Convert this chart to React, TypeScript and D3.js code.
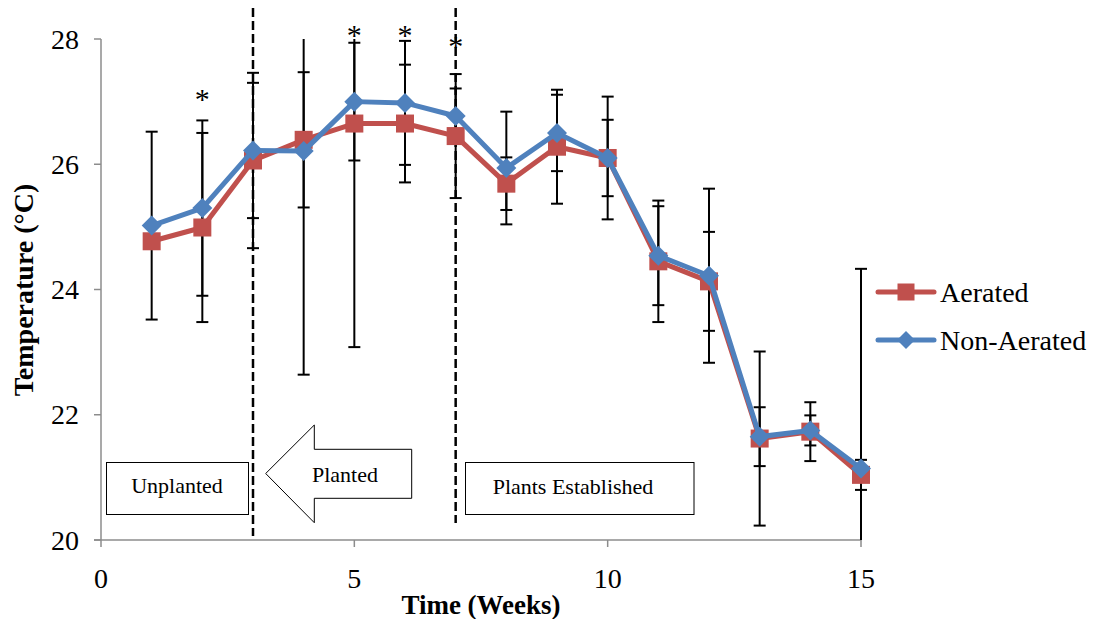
import React from "react";
import * as d3 from "d3";

const weeks = [1, 2, 3, 4, 5, 6, 7, 8, 9, 10, 11, 12, 13, 14, 15];
const aerated = [24.77, 24.99, 26.06, 26.39, 26.65, 26.65, 26.45, 25.69, 26.28, 26.1, 24.45, 24.13, 21.62, 21.73, 21.04];
const nonAerated = [25.02, 25.3, 26.22, 26.21, 27.0, 26.98, 26.77, 25.94, 26.5, 26.1, 24.54, 24.22, 21.65, 21.75, 21.14];
const aeratedErr = [0, 1.51, 1.4, 1.08, 3.57, 0.94, 0.99, 0.42, 0.91, 0.98, 0.97, 0.79, 1.39, 0.47, 0.24];
const nonAeratedErr = [1.5, 1.4, 1.08, 3.57, 0.94, 0.99, 0.44, 0.9, 0.61, 0.61, 0.79, 1.39, 0.47, 0.24, 3.19];
const sigWeeks = [2, 5, 6, 7];
const sigLevels = [27.12, 28.15, 28.15, 27.97];
const phaseBoundaries = [3, 7];
const xTicks = [0, 5, 10, 15];
const yTicks = [20, 22, 24, 26, 28];
const seriesNames = ["Aerated", "Non-Aerated"];

const RED = "#C0504D";
const BLUE = "#4F81BD";
const AXIS = "#8c8c8c";
const FONT = '"Liberation Serif", "Times New Roman", Times, serif';

export default function App() {
  const W = 1094;
  const H = 619;
  const x = d3.scaleLinear().domain([0, 15]).range([101, 861]);
  const y = d3.scaleLinear().domain([20, 28]).range([540, 39]);

  const line = d3
    .line<[number, number]>()
    .x((d) => x(d[0]))
    .y((d) => y(d[1]));

  const aPts: [number, number][] = weeks.map((w, i) => [w, aerated[i]]);
  const nPts: [number, number][] = weeks.map((w, i) => [w, nonAerated[i]]);

  const errBars = (vals: number[], errs: number[], key: string) =>
    weeks.map((w, i) => {
      const e = errs[i];
      if (!e) return null;
      const hi = vals[i] + e;
      const lo = vals[i] - e;
      const cx = x(w);
      const yHi = y(Math.min(hi, 28));
      const yLo = y(Math.max(lo, 20));
      return (
        <g key={key + i} stroke="#000" strokeWidth={2}>
          <line x1={cx} x2={cx} y1={yHi} y2={yLo} />
          {hi <= 28 && <line x1={cx - 6} x2={cx + 6} y1={yHi} y2={yHi} />}
          {lo >= 20 && <line x1={cx - 6} x2={cx + 6} y1={yLo} y2={yLo} />}
        </g>
      );
    });

  const square = (cx: number, cy: number, s: number, k: string) => (
    <rect key={k} x={cx - s / 2} y={cy - s / 2} width={s} height={s} fill={RED} />
  );
  const diamond = (cx: number, cy: number, r: number, k: string) => (
    <path
      key={k}
      d={`M${cx},${cy - r}L${cx + r},${cy}L${cx},${cy + r}L${cx - r},${cy}Z`}
      fill={BLUE}
    />
  );

  return (
    <svg
      width={W}
      height={H}
      style={{ position: "absolute", left: 0, top: 0, background: "#fff", fontFamily: FONT }}
    >
      <defs>
        <clipPath id="plotClip">
          <rect x={90} y={39} width={800} height={501} />
        </clipPath>
      </defs>
      <rect width={W} height={H} fill="#fff" />

      {/* axes */}
      <line x1={x(0)} x2={x(0)} y1={y(28)} y2={y(20)} stroke={AXIS} strokeWidth={1.5} />
      <line x1={x(0) - 7} x2={x(15)} y1={y(20)} y2={y(20)} stroke={AXIS} strokeWidth={1.5} />
      {yTicks.map((t) => (
        <g key={"yt" + t}>
          <line x1={x(0) - 7} x2={x(0)} y1={y(t)} y2={y(t)} stroke={AXIS} strokeWidth={1.5} />
          <text x={79} y={y(t) + 9.5} fontSize={28} textAnchor="end" fill="#000">
            {t}
          </text>
        </g>
      ))}
      {xTicks.map((t) => (
        <g key={"xt" + t}>
          <line x1={x(t)} x2={x(t)} y1={y(20)} y2={y(20) + 7} stroke={AXIS} strokeWidth={1.5} />
          <text x={x(t)} y={588} fontSize={28} textAnchor="middle" fill="#000">
            {t}
          </text>
        </g>
      ))}
      <text x={481} y={614} fontSize={27} fontWeight="bold" textAnchor="middle">
        Time (Weeks)
      </text>
      <text
        transform={`translate(33,290) rotate(-90)`}
        fontSize={28}
        fontWeight="bold"
        textAnchor="middle"
      >
        Temperature (°C)
      </text>

      {/* phase boundaries */}
      {phaseBoundaries.map((b, i) => (
        <line
          key={"pb" + b}
          x1={x(b)}
          x2={x(b)}
          y1={8}
          y2={i === 0 ? 536 : 523}
          stroke="#000"
          strokeWidth={2.5}
          strokeDasharray="9 4"
        />
      ))}

      {/* annotations */}
      <rect x={106.5} y={462.5} width={142} height={52} fill="#fff" stroke="#000" strokeWidth={1} />
      <text x={177} y={493} fontSize={22} textAnchor="middle">
        Unplanted
      </text>
      <path
        d="M265.7,473.5 L314.3,425 L314.3,449.3 L411.7,449.3 L411.7,498.3 L314.3,498.3 L314.3,522.7 Z"
        fill="#fff"
        stroke="#000"
        strokeWidth={1}
      />
      <text x={345} y={482} fontSize={22} textAnchor="middle">
        Planted
      </text>
      <rect x={465.5} y={462.5} width={228.5} height={52} fill="#fff" stroke="#000" strokeWidth={1} />
      <text x={573} y={494} fontSize={22} textAnchor="middle">
        Plants Established
      </text>

      {/* error bars */}
      <g clipPath="url(#plotClip)">
        {errBars(aerated, aeratedErr, "ea")}
        {errBars(nonAerated, nonAeratedErr, "en")}
      </g>

      {/* series */}
      <path d={line(aPts) || ""} fill="none" stroke={RED} strokeWidth={5} strokeLinejoin="round" />
      {aPts.map((p, i) => square(x(p[0]), y(p[1]), 18, "sa" + i))}
      <path d={line(nPts) || ""} fill="none" stroke={BLUE} strokeWidth={5} strokeLinejoin="round" />
      {nPts.map((p, i) => diamond(x(p[0]), y(p[1]), 10, "dn" + i))}

      {/* significance */}
      {sigWeeks.map((w, i) => (
        <text key={"sig" + w} x={x(w)} y={y(sigLevels[i]) + 15} fontSize={30} textAnchor="middle" fill="#000">
          *
        </text>
      ))}

      {/* legend */}
      <line x1={878} x2={934} y1={292} y2={292} stroke={RED} strokeWidth={5} strokeLinecap="round" />
      {square(906, 292, 17, "lgA")}
      <text x={940} y={302} fontSize={28}>
        {seriesNames[0]}
      </text>
      <line x1={878} x2={934} y1={340} y2={340} stroke={BLUE} strokeWidth={5} strokeLinecap="round" />
      {diamond(906, 340, 9, "lgN")}
      <text x={940} y={350} fontSize={28}>
        {seriesNames[1]}
      </text>
    </svg>
  );
}
